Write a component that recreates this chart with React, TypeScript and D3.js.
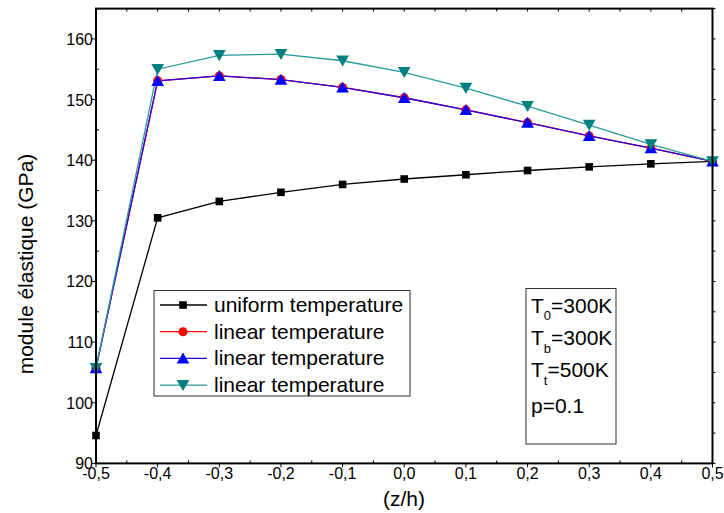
import React from "react";
import * as d3 from "d3";

// Through-thickness position z/h
const zPositions = [-0.5, -0.4, -0.3, -0.2, -0.1, 0.0, 0.1, 0.2, 0.3, 0.4, 0.5];

// Elastic modulus (GPa) for each thermal load case
const uniformTemp = [94.6, 130.5, 133.2, 134.7, 136.0, 136.9, 137.6, 138.3, 138.9, 139.4, 139.8];
const linearTempRed = [105.7, 153.1, 153.9, 153.3, 152.0, 150.3, 148.3, 146.2, 144.0, 142.0, 139.8];
const linearTempBlue = [105.7, 153.1, 153.9, 153.3, 152.0, 150.3, 148.3, 146.2, 144.0, 142.0, 139.8];
const linearTempTeal = [105.7, 155.0, 157.3, 157.5, 156.4, 154.5, 151.9, 148.9, 145.8, 142.6, 139.8];

const xTicks = [-0.5, -0.4, -0.3, -0.2, -0.1, 0.0, 0.1, 0.2, 0.3, 0.4, 0.5];
const xTickLabels = ["-0,5", "-0,4", "-0,3", "-0,2", "-0,1", "0,0", "0,1", "0,2", "0,3", "0,4", "0,5"];
const yTicks = [90, 100, 110, 120, 130, 140, 150, 160];

const legendLabels = ["uniform temperature", "linear temperature", "linear temperature", "linear temperature"];

const W = 724;
const H = 513;
const FONT = "'Liberation Sans', Arial, sans-serif";

const x = d3.scaleLinear().domain([-0.5, 0.5]).range([96, 712.5]);
const y = d3.scaleLinear().domain([90, 165]).range([463.4, 8.6]);

type Marker = "square" | "circle" | "up" | "down";

interface Series {
  values: number[];
  color: string;
  lineColor: string;
  marker: Marker;
}

const series: Series[] = [
  { values: uniformTemp, color: "#000000", lineColor: "#000000", marker: "square" },
  { values: linearTempRed, color: "#ff0000", lineColor: "#ff0000", marker: "circle" },
  { values: linearTempBlue, color: "#0000ff", lineColor: "#2a00e0", marker: "up" },
  { values: linearTempTeal, color: "#008080", lineColor: "#2a9a9a", marker: "down" },
];

const symbolFor = (m: Marker) => {
  if (m === "square") return d3.symbol().type(d3.symbolSquare).size(58)();
  if (m === "circle") return d3.symbol().type(d3.symbolCircle).size(64)();
  return d3.symbol().type(d3.symbolTriangle).size(70)();
};

function MarkerShape({ m, cx, cy, color }: { m: Marker; cx: number; cy: number; color: string }) {
  const rot = m === "down" ? 180 : 0;
  const dy = m === "up" ? 1.5 : m === "down" ? -1.5 : 0;
  return (
    <path
      d={symbolFor(m) || ""}
      transform={`translate(${cx},${cy + dy}) rotate(${rot})`}
      fill={color}
      stroke="none"
    />
  );
}

export default function App() {
  const line = d3
    .line<number>()
    .x((_, i) => x(zPositions[i]))
    .y((d) => y(d));

  const minorX = d3.range(-0.5, 0.5001, 0.05).map((v) => +v.toFixed(2));
  const minorY = d3.range(90, 165.001, 5);

  const [x0, x1] = x.range();
  const [yb, yt] = y.range();

  return (
    <svg
      width={W}
      height={H}
      style={{ position: "absolute", left: 0, top: 0, background: "#fff" }}
      fontFamily={FONT}
    >
      <rect x={0} y={0} width={W} height={H} fill="#fff" />

      {/* ticks */}
      <g stroke="#000" strokeWidth={1}>
        {minorY.map((v) => {
          const major = v % 10 === 0;
          return (
            <g key={`yt${v}`}>
              {major ? (
                <line x1={x0 - 4} x2={x0} y1={y(v)} y2={y(v)} />
              ) : (
                <line x1={x0} x2={x0 + 3} y1={y(v)} y2={y(v)} />
              )}
              <line x1={x1} x2={x1 + 3} y1={y(v)} y2={y(v)} />
            </g>
          );
        })}
        {minorX.map((v, i) => {
          const major = i % 2 === 0;
          return (
            <g key={`xt${i}`}>
              {major ? (
                <line x1={x(v)} x2={x(v)} y1={yb} y2={yb + 4} />
              ) : (
                <line x1={x(v)} x2={x(v)} y1={yb} y2={yb - 3} />
              )}
              <line x1={x(v)} x2={x(v)} y1={yt} y2={yt + 3} />
            </g>
          );
        })}
      </g>

      {/* series lines */}
      {series.map((s, si) => (
        <path
          key={`l${si}`}
          d={line(s.values) || ""}
          fill="none"
          stroke={s.lineColor}
          strokeWidth={1.3}
        />
      ))}
      {/* series markers */}
      {series.map((s, si) => (
        <g key={`m${si}`}>
          {s.values.map((v, i) => (
            <MarkerShape key={i} m={s.marker} cx={x(zPositions[i])} cy={y(v)} color={s.color} />
          ))}
        </g>
      ))}

      {/* frame */}
      <rect
        x={x0}
        y={yt}
        width={x1 - x0}
        height={yb - yt}
        fill="none"
        stroke="#000"
        strokeWidth={2}
      />

      {/* tick labels */}
      <g fontSize={16} fill="#000">
        {yTicks.map((v) => (
          <text key={`yl${v}`} x={x0 - 3} y={y(v) + 6} textAnchor="end">
            {v}
          </text>
        ))}
        {xTicks.map((v, i) => (
          <text key={`xl${i}`} x={x(v)} y={yb + 16} textAnchor="middle">
            {xTickLabels[i]}
          </text>
        ))}
      </g>

      {/* axis titles */}
      <text x={404} y={506} fontSize={21} textAnchor="middle" fill="#000">
        (z/h)
      </text>
      <text
        transform="translate(33,264) rotate(-90)"
        fontSize={21}
        textAnchor="middle"
        fill="#000"
      >
        module élastique (GPa)
      </text>

      {/* legend */}
      <rect x={154} y={290.5} width={256} height={105.5} fill="#fff" stroke="#333" strokeWidth={1} />
      {series.map((s, i) => {
        const cy = 305 + i * 26.7;
        return (
          <g key={`lg${i}`}>
            <line x1={160} x2={207} y1={cy} y2={cy} stroke={s.lineColor} strokeWidth={1.3} />
            <MarkerShape m={s.marker} cx={183} cy={cy} color={s.color} />
            <text x={214} y={cy + 7} fontSize={21} fill="#000">
              {legendLabels[i]}
            </text>
          </g>
        );
      })}

      {/* parameter box */}
      <rect x={526} y={288.5} width={90} height={155.5} fill="#fff" stroke="#333" strokeWidth={1} />
      <g fontSize={21} fill="#000">
        <text x={531} y={312.5}>
          T<tspan fontSize={13} dy={7}>0</tspan>
          <tspan dy={-7}>=300K</tspan>
        </text>
        <text x={531} y={345}>
          T<tspan fontSize={13} dy={8}>b</tspan>
          <tspan dy={-8}>=300K</tspan>
        </text>
        <text x={531} y={377}>
          T<tspan fontSize={13} dy={8}>t</tspan>
          <tspan dy={-8}>=500K</tspan>
        </text>
        <text x={531} y={413}>p=0.1</text>
      </g>
    </svg>
  );
}
